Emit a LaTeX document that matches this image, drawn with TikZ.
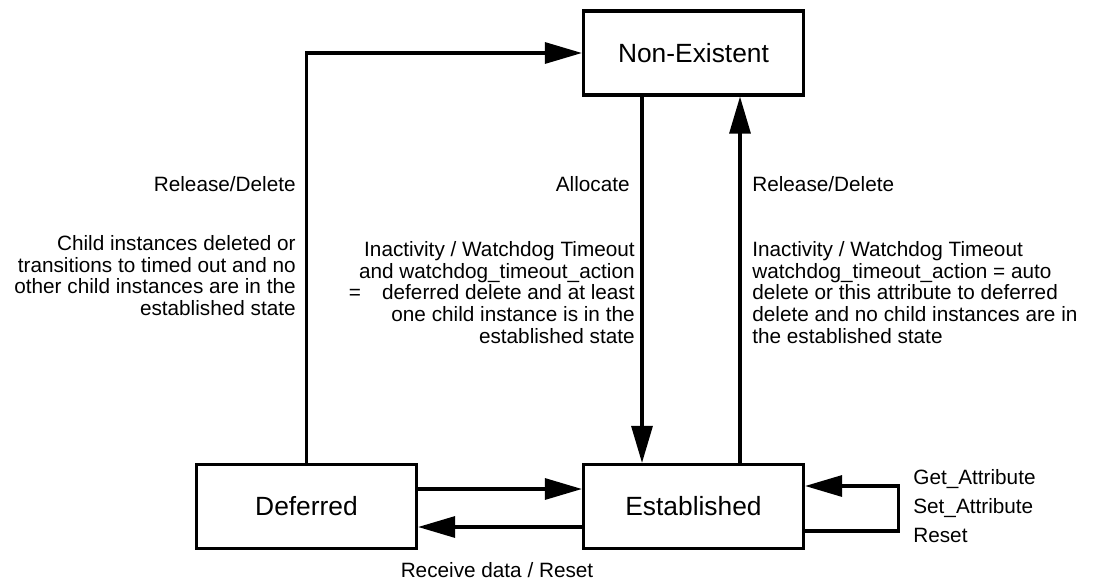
\documentclass[tikz,border=0pt]{standalone}
\usepackage{fontspec}
\setmainfont{Liberation Sans}
\usetikzlibrary{arrows.meta}

\begin{document}
\begin{tikzpicture}[
	state/.style={draw=black, line width=1.8pt, minimum width=4.4cm, minimum height=1.68cm, font=\fontsize{15pt}{18pt}\selectfont},
	lbl/.style={inner sep=0pt, font=\fontsize{11.8pt}{12.4pt}\selectfont},
	trans/.style={line width=1.8pt, -{Triangle[length=0.74cm, width=0.42cm]}}
	]
	\useasboundingbox (0,0) rectangle (21.92,11.68);
	%the three states
	\node[state] (nonex) at (13.87,10.62) {Non-Existent};
	\node[state] (est) at (13.87,1.55) {Established};
	\node[state] (def) at (6.13,1.55) {Deferred};

	%transitions between the states
	\draw[trans] (def.north) |- (nonex.west);
	\draw[trans] ([xshift=-1.03cm]nonex.south) -- ([xshift=-1.03cm]est.north);
	\draw[trans] ([xshift=0.93cm]est.north) -- ([xshift=0.93cm]nonex.south);
	\draw[trans] ([yshift=0.35cm]def.east) -- ([yshift=0.35cm]est.west);
	\draw[trans] ([yshift=-0.41cm]est.west) -- ([yshift=-0.41cm]def.east);
	%self loop on established
	\draw[trans] ([yshift=-0.49cm]est.east) -- ++(1.86,0) |- ([yshift=0.41cm]est.east);

	%labels, left branch
	\node[lbl, anchor=north east] (relL) at (5.92,8.16) {Release/Delete};
	\node[lbl, anchor=north east, align=right] (childL) at (5.92,6.98) {Child instances deleted or \\ transitions to timed out and no \\ other child instances are in the \\ established state};
	%labels, middle branch
	\node[lbl, anchor=north east] (alloc) at (12.6,8.16) {Allocate};
	\node[lbl, anchor=north east, align=right] (inactM) at (12.7,6.86) {Inactivity / Watchdog Timeout \\ and watchdog\_timeout\_action \\ =\hspace{0.75em} deferred delete and at least \\ one child instance is in the \\ established state};
	%labels, right branch
	\node[lbl, anchor=north west] (relR) at (15.04,8.16) {Release/Delete};
	\node[lbl, anchor=north west, align=left] (inactR) at (15.04,6.86) {Inactivity / Watchdog Timeout \\ watchdog\_timeout\_action = auto \\ delete or this attribute to deferred \\ delete and no child instances are in \\ the established state};
	%labels, bottom
	\node[lbl, anchor=north west, align=left, font=\fontsize{11.8pt}{16.5pt}\selectfont] (attr) at (18.26,2.3) {Get\_Attribute \\ Set\_Attribute \\ Reset};
	\node[lbl] (recv) at (9.94,0.28) {Receive data / Reset};

\end{tikzpicture}
\end{document}
